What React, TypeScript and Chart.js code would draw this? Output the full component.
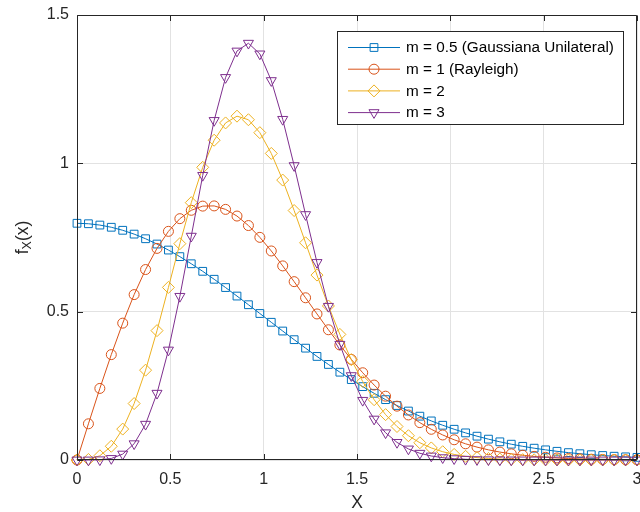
import React, { useEffect, useRef } from 'react';
import { Chart, registerables } from 'chart.js';

Chart.register(...registerables);

// x sample positions (50 points from 0 to 3)
const xValues = [
  0, 0.0612, 0.1224, 0.1837, 0.2449, 0.3061, 0.3673, 0.4286, 0.4898, 0.5510,
  0.6122, 0.6735, 0.7347, 0.7959, 0.8571, 0.9184, 0.9796, 1.0408, 1.1020, 1.1633,
  1.2245, 1.2857, 1.3469, 1.4082, 1.4694, 1.5306, 1.5918, 1.6531, 1.7143, 1.7755,
  1.8367, 1.8980, 1.9592, 2.0204, 2.0816, 2.1429, 2.2041, 2.2653, 2.3265, 2.3878,
  2.4490, 2.5102, 2.5714, 2.6327, 2.6939, 2.7551, 2.8163, 2.8776, 2.9388, 3.0,
];

const seriesM05 = [
  0.7979, 0.7964, 0.7919, 0.7845, 0.7743, 0.7614, 0.7458, 0.7279, 0.7077, 0.6855,
  0.6615, 0.6360, 0.6092, 0.5813, 0.5526, 0.5234, 0.4938, 0.4642, 0.4347, 0.4056,
  0.3770, 0.3491, 0.3221, 0.2960, 0.2711, 0.2473, 0.2248, 0.2035, 0.1836, 0.1650,
  0.1477, 0.1317, 0.1171, 0.1036, 0.0914, 0.0803, 0.0703, 0.0613, 0.0533, 0.0461,
  0.0398, 0.0342, 0.0293, 0.0249, 0.0212, 0.0179, 0.0151, 0.0127, 0.0106, 0.0089,
];

const seriesM1 = [
  0, 0.1220, 0.2413, 0.3552, 0.4613, 0.5575, 0.6420, 0.7133, 0.7707, 0.8135,
  0.8417, 0.8558, 0.8565, 0.8448, 0.8223, 0.7903, 0.7505, 0.7046, 0.6543, 0.6012,
  0.5468, 0.4923, 0.4390, 0.3877, 0.3392, 0.2941, 0.2526, 0.2151, 0.1815, 0.1518,
  0.1259, 0.1035, 0.0844, 0.0682, 0.0546, 0.0434, 0.0342, 0.0268, 0.0208, 0.0160,
  0.0122, 0.0092, 0.0069, 0.0051, 0.0038, 0.0028, 0.0020, 0.0015, 0.0010, 0.0007,
];

const seriesM2 = [
  0, 0.0018, 0.0143, 0.0463, 0.1042, 0.1903, 0.3028, 0.4361, 0.5818, 0.7292,
  0.8675, 0.9865, 1.0779, 1.1362, 1.1590, 1.1470, 1.1034, 1.0334, 0.9436, 0.8409,
  0.7322, 0.6233, 0.5192, 0.4234, 0.3382, 0.2647, 0.2032, 0.1529, 0.1129, 0.0818,
  0.0582, 0.0407, 0.0279, 0.0188, 0.0124, 0.0081, 0.0052, 0.0032, 0.0020, 0.0012,
  0.0007, 0.0004, 0.0002, 0.0001, 0.0001, 0, 0, 0, 0, 0,
];

const seriesM3 = [
  0, 0, 0.0007, 0.0051, 0.0199, 0.0548, 0.1205, 0.2250, 0.3706, 0.5516,
  0.7544, 0.9594, 1.1445, 1.2893, 1.3785, 1.4048, 1.3688, 1.2789, 1.1482, 0.9924,
  0.8272, 0.6658, 0.5180, 0.3900, 0.2844, 0.2011, 0.1379, 0.0917, 0.0593, 0.0372,
  0.0227, 0.0135, 0.0078, 0.0044, 0.0024, 0.0013, 0.0007, 0.0003, 0.0002, 0.0001,
  0, 0, 0, 0, 0, 0, 0, 0, 0, 0,
];

const seriesLabels = ['m = 0.5 (Gaussiana Unilateral)', 'm = 1 (Rayleigh)', 'm = 2', 'm = 3'];
const xTickLabels = ['0', '0.5', '1', '1.5', '2', '2.5', '3'];
const yTickLabels = ['0', '0.5', '1', '1.5'];
const xAxisTitle = 'X';
const yAxisTitleMain = 'f';
const yAxisTitleSub = 'X';
const yAxisTitleTail = '(x)';

const COLORS = ['#0072BD', '#D95319', '#EDB120', '#7E2F8E'];
const MARKERS = ['rect', 'circle', 'rectRot', 'triangleDown'];
const RADII = [5.5, 5, 6, 5.8];
const FONT = '"Liberation Sans", Arial, Helvetica, sans-serif';
const AXIS_COLOR = '#262626';

function drawMarker(ctx: CanvasRenderingContext2D, style: string, x: number, y: number, r: number, color: string) {
  ctx.beginPath();
  if (style === 'rect') {
    const s = r * Math.SQRT1_2;
    ctx.rect(x - s, y - s, 2 * s, 2 * s);
  } else if (style === 'circle') {
    ctx.arc(x, y, r, 0, Math.PI * 2);
  } else if (style === 'rectRot') {
    ctx.moveTo(x - r, y);
    ctx.lineTo(x, y - r);
    ctx.lineTo(x + r, y);
    ctx.lineTo(x, y + r);
    ctx.closePath();
  } else {
    ctx.moveTo(x, y + r);
    ctx.lineTo(x - r * 0.866, y - r * 0.5);
    ctx.lineTo(x + r * 0.866, y - r * 0.5);
    ctx.closePath();
  }
  ctx.strokeStyle = color;
  ctx.lineWidth = 1;
  ctx.stroke();
}

const framePlugin = {
  id: 'matlabFrame',
  afterDatasetsDraw(chart: any) {
    const ctx: CanvasRenderingContext2D = chart.ctx;
    const { left, right, top, bottom } = chart.chartArea;
    const xs = chart.scales.x;
    const ys = chart.scales.y;
    const L = Math.round(left) + 0.5;
    const R = Math.round(right) - 0.5;
    const T = Math.round(top) + 0.5;
    const B = Math.round(bottom) - 0.5;
    ctx.save();
    ctx.strokeStyle = AXIS_COLOR;
    ctx.lineWidth = 1;
    ctx.beginPath();
    ctx.moveTo(L, T);
    ctx.lineTo(R, T);
    ctx.lineTo(R, B);
    ctx.lineTo(L, B);
    ctx.closePath();
    ctx.stroke();
    const tl = 5.5;
    ctx.beginPath();
    xs.ticks.forEach((t: any) => {
      const px = Math.round(xs.getPixelForValue(t.value)) + 0.5;
      ctx.moveTo(px, B);
      ctx.lineTo(px, B - tl);
      ctx.moveTo(px, T);
      ctx.lineTo(px, T + tl);
    });
    ys.ticks.forEach((t: any) => {
      const py = Math.round(ys.getPixelForValue(t.value)) + 0.5;
      ctx.moveTo(L, py);
      ctx.lineTo(L + tl, py);
      ctx.moveTo(R, py);
      ctx.lineTo(R - tl, py);
    });
    ctx.stroke();
    ctx.restore();
  },
  afterDraw(chart: any) {
    const ctx: CanvasRenderingContext2D = chart.ctx;
    const { left, right, top, bottom } = chart.chartArea;
    ctx.save();
    // axis titles
    ctx.fillStyle = AXIS_COLOR;
    ctx.font = `17.5px ${FONT}`;
    ctx.textAlign = 'center';
    ctx.textBaseline = 'middle';
    ctx.fillText(xAxisTitle, (left + right) / 2, 503);

    ctx.save();
    ctx.translate(23, (top + bottom) / 2);
    ctx.rotate(-Math.PI / 2);
    ctx.textAlign = 'left';
    ctx.textBaseline = 'middle';
    const mainFont = `17.5px ${FONT}`;
    const subFont = `12.5px ${FONT}`;
    ctx.font = mainFont;
    const w1 = ctx.measureText(yAxisTitleMain).width;
    const w3 = ctx.measureText(yAxisTitleTail).width;
    ctx.font = subFont;
    const w2 = ctx.measureText(yAxisTitleSub).width;
    let cx = -(w1 + w2 + w3) / 2;
    ctx.font = mainFont;
    ctx.fillText(yAxisTitleMain, cx, 0);
    cx += w1;
    ctx.font = subFont;
    ctx.fillText(yAxisTitleSub, cx, 5);
    cx += w2;
    ctx.font = mainFont;
    ctx.fillText(yAxisTitleTail, cx, 0);
    ctx.restore();

    // legend box
    const bx = 337.5, by = 31.5, bw = 286, bh = 93;
    ctx.fillStyle = '#ffffff';
    ctx.fillRect(bx, by, bw, bh);
    ctx.strokeStyle = AXIS_COLOR;
    ctx.lineWidth = 1;
    ctx.strokeRect(bx, by, bw, bh);
    ctx.font = `15.3px ${FONT}`;
    ctx.textAlign = 'left';
    ctx.textBaseline = 'middle';
    seriesLabels.forEach((label, i) => {
      const y = 47.5 + i * 21.7;
      ctx.strokeStyle = COLORS[i];
      ctx.lineWidth = 1;
      ctx.beginPath();
      ctx.moveTo(348, y);
      ctx.lineTo(400, y);
      ctx.stroke();
      drawMarker(ctx, MARKERS[i], 374, y, RADII[i], COLORS[i]);
      ctx.fillStyle = '#000000';
      ctx.fillText(label, 406, y + 0.5);
    });
    ctx.restore();
  },
};

export default function App() {
  const ref = useRef<HTMLCanvasElement>(null);
  useEffect(() => {
    const canvas = ref.current;
    if (!canvas) return;
    const seriesList = [seriesM05, seriesM1, seriesM2, seriesM3];
    const datasets = seriesList.map((vals, i) => ({
      label: seriesLabels[i],
      data: xValues.map((x, k) => ({ x, y: vals[k] })),
      borderColor: COLORS[i],
      backgroundColor: 'rgba(0,0,0,0)',
      borderWidth: 1,
      pointStyle: MARKERS[i] === 'triangleDown' ? 'triangle' : MARKERS[i],
      rotation: MARKERS[i] === 'triangleDown' ? 180 : 0,
      pointRadius: RADII[i],
      pointBorderWidth: 1,
      pointBorderColor: COLORS[i],
      pointBackgroundColor: 'rgba(0,0,0,0)',
      tension: 0,
      clip: false as any,
      order: 4 - i,
    }));
    const chart = new Chart(canvas, {
      type: 'line',
      data: { datasets },
      options: {
        responsive: false,
        animation: false,
        events: [],
        layout: { autoPadding: false, padding: { left: 0, right: 3, top: 15, bottom: 0 } },
        plugins: { legend: { display: false }, tooltip: { enabled: false } },
        scales: {
          x: {
            type: 'linear',
            min: 0,
            max: 3,
            ticks: {
              stepSize: 0.5,
              autoSkip: false,
              maxRotation: 0,
              padding: 10,
              color: AXIS_COLOR,
              font: { family: FONT, size: 16 },
              callback: (_v: any, i: number) => xTickLabels[i],
            },
            grid: { color: '#e2e2e2', drawTicks: false, lineWidth: 1 },
            border: { display: false },
            afterFit: (s: any) => {
              s.height = 52;
              s.paddingLeft = 0;
              s.paddingRight = 0;
            },
          },
          y: {
            type: 'linear',
            min: 0,
            max: 1.5,
            ticks: {
              stepSize: 0.5,
              padding: 8,
              color: AXIS_COLOR,
              font: { family: FONT, size: 16 },
              callback: (_v: any, i: number) => yTickLabels[i],
            },
            grid: { color: '#e2e2e2', drawTicks: false, lineWidth: 1 },
            border: { display: false },
            afterFit: (s: any) => {
              s.width = 77;
              s.paddingTop = 0;
              s.paddingBottom = 0;
            },
          },
        },
      },
      plugins: [framePlugin],
    } as any);
    return () => chart.destroy();
  }, []);
  return (
    <div style={{ position: 'fixed', left: 0, top: 0, width: 640, height: 512, background: '#ffffff' }}>
      <canvas ref={ref} width={640} height={512} style={{ display: 'block' }} />
    </div>
  );
}
